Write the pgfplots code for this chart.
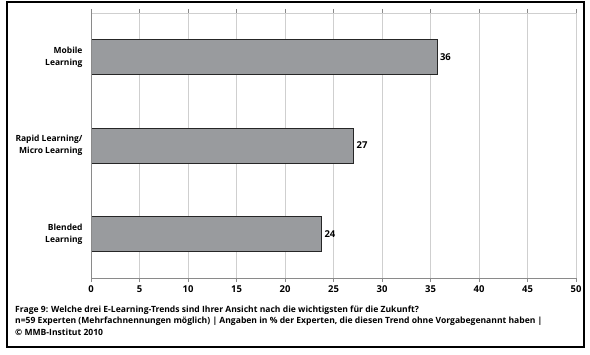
\documentclass[border=0pt]{standalone}
\usepackage{pgfplots}
\pgfplotsset{compat=1.18}
\usepackage{fontspec}
\setmainfont{Open Sans}
\definecolor{barfill}{HTML}{999B9E}
\definecolor{gridc}{HTML}{CFCFCF}
\definecolor{axc}{HTML}{8A8A8A}
\begin{document}
\begin{tikzpicture}[x=1bp,y=1bp]
\path[use as bounding box] (0,0) rectangle (590,354);
\draw[line width=1.3bp] (7,7) rectangle (584,352);
\begin{axis}[
  at={(91bp,76bp)}, anchor=south west,
  scale only axis, width=485bp, height=265bp,
  xmin=0, xmax=50, ymin=0.5, ymax=3.5,
  xtick={0,5,...,50},
  ytick={1,2,3},
  yticklabels={{Blended\\Learning},{Rapid Learning/\\Micro Learning},{Mobile\\Learning}},
  yticklabel style={align=right, font=\fontsize{8.5}{12}\selectfont\bfseries, xshift=-1bp},
  xticklabel style={font=\fontsize{9.5}{11}\selectfont\bfseries},
  /pgf/number format/assume math mode=true,
  ytick style={draw=none},
  extra y ticks={0.5,1.5,2.5,3.5},
  extra y tick labels={},
  extra y tick style={tick style={draw=axc, line width=0.6bp}, major tick length=4bp, tick align=outside, grid=none},
  xtick style={draw=axc, line width=0.6bp},
  major tick length=4bp, tick align=outside,
  xmajorgrids, grid style={gridc, line width=0.8bp},
  axis line style={draw=gridc, line width=0.8bp},
  separate axis lines,
  xbar, bar width=35bp,
  point meta=explicit symbolic,
  nodes near coords,
  nodes near coords style={font=\fontsize{9.5}{11}\selectfont\bfseries, anchor=west, xshift=-1bp},
  clip=false,
]
\addplot[fill=barfill, draw=black!85, line width=0.8bp] coordinates {
  (23.8,1) [24]
  (27.1,2) [27]
  (35.7,3) [36]
};
\draw[axc, line width=0.8bp] (axis cs:0,0.5) -- (axis cs:0,3.5);
\draw[axc, line width=0.8bp] (axis cs:0,0.5) -- (axis cs:50,0.5);
\end{axis}
\node[anchor=north west, inner sep=0pt, align=left, font=\fontsize{8.6}{11.2}\selectfont\bfseries] at (15,48) {Frage 9: Welche drei E-Learning-Trends sind Ihrer Ansicht nach die wichtigsten für die Zukunft?\\
n=59 Experten (Mehrfachnennungen möglich) | Angaben in \% der Experten, die diesen Trend ohne Vorgabegenannt haben |\\
© MMB-Institut 2010};
\end{tikzpicture}
\end{document}
